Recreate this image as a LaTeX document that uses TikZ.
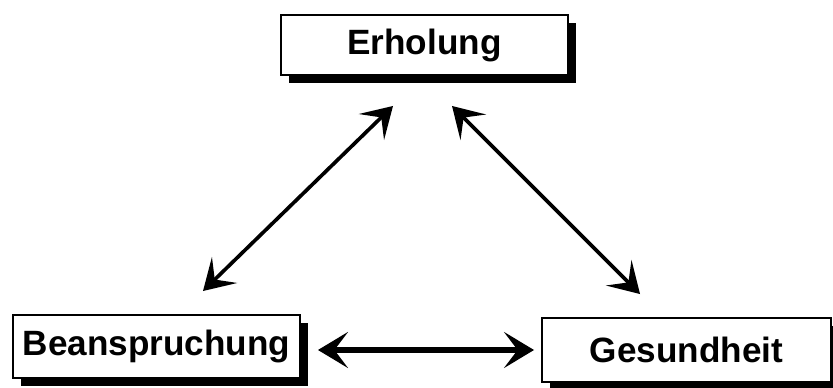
\documentclass[tikz,border=0pt]{standalone}
\usepackage{fontspec}
\setmainfont{Liberation Sans}
\usetikzlibrary{arrows.meta,shadows}

\begin{document}
\begin{tikzpicture}[
  box/.style={draw,line width=1.4pt,fill=white,inner sep=0pt,font=\fontsize{25}{29}\selectfont\bfseries,
    drop shadow={shadow xshift=0.2cm,shadow yshift=-0.2cm,fill=black,opacity=1}},
  arrow/.style={{Stealth[length=7.5mm,width=9mm,inset=3.4mm]}-{Stealth[length=7.5mm,width=9mm,inset=3.4mm]},line width=2.6pt}
]
\useasboundingbox (0,0) rectangle (20.825,9.675);
\node[box,minimum width=7.18cm,minimum height=1.5cm] (rest) at (10.61,8.55) {Erholung};
\node[box,minimum width=7.18cm,minimum height=1.58cm] (beans) at (3.91,1.01) {Beanspruchung};
\node[box,minimum width=7.23cm,minimum height=1.6cm] (health) at (17.16,0.925) {Gesundheit};
\draw[arrow] ([xshift=1.165cm,yshift=0.575cm]beans.north) -- ([xshift=-0.785cm,yshift=-0.75cm]rest.south);
\draw[arrow] ([xshift=0.69cm,yshift=-0.75cm]rest.south) -- ([xshift=-1.16cm,yshift=0.575cm]health.north);
\draw[arrow,line width=3.6pt,shorten <=0.425cm,shorten >=0.17cm] (beans.east |- health.west) -- (health.west);
\end{tikzpicture}
\end{document}
